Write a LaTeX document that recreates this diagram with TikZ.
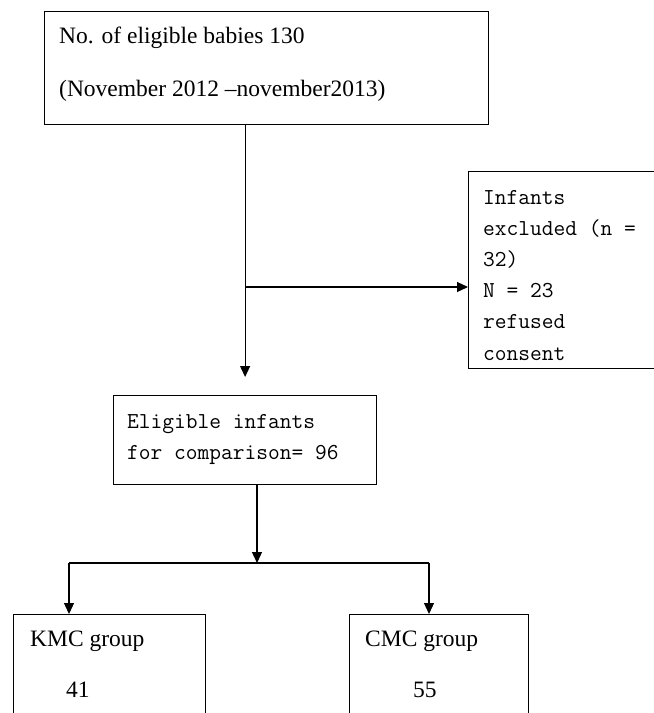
\documentclass[tikz,border=0pt]{standalone}
\usepackage{fontspec}
\setmainfont{Liberation Serif}
\usetikzlibrary{arrows.meta,positioning}

\tikzset{
    box/.style={draw, line width=1.2pt, anchor=north west, inner sep=0pt},
    flow/.style={line width=1.2pt, -{Triangle[width=10pt,length=11pt]}},
    serif/.style={anchor=base west, inner sep=0pt, font=\fontsize{23.5}{28}\selectfont},
    mono/.style={anchor=base west, inner sep=0pt, font=\ttfamily\fontsize{22.8}{28}\selectfont}
}

\begin{document}
\begin{tikzpicture}[x=1pt, y=-1pt]
            \useasboundingbox (0, 0) rectangle (654, 713);
            \clip (0, 0) rectangle (654, 713);

            \node[box, minimum width=444pt, minimum height=113pt] (babies) at (44, 11) {};
            \node[serif] (babiesA) at (59, 43) {No. of eligible babies 130};
            \node[serif] (babiesB) at (59, 96) {(November 2012 –november2013)};

            \node[box, minimum width=260pt, minimum height=197pt] (excl) at (468, 171) {};
            \node[mono] (exclA) at (483, 204) {Infants};
            \node[mono] (exclB) at (483, 235) {excluded (n =};
            \node[mono] (exclC) at (483, 266) {32)};
            \node[mono] (exclD) at (483, 297) {N = 23};
            \node[mono] (exclE) at (483, 328) {refused};
            \node[mono] (exclF) at (483, 360) {consent};

            \node[box, minimum width=263pt, minimum height=89pt] (elig) at (113, 395) {};
            \node[mono] (eligA) at (127, 428) {Eligible infants};
            \node[mono] (eligB) at (127, 459) {for comparison= 96};

            \node[box, minimum width=192pt, minimum height=160pt] (kmc) at (13, 614) {};
            \node[serif] (kmcA) at (30, 646) {KMC group};
            \node[serif] (kmcB) at (66, 697) {41};

            \node[box, minimum width=179pt, minimum height=160pt] (cmc) at (349, 614) {};
            \node[serif] (cmcA) at (365, 646) {CMC group};
            \node[serif] (cmcB) at (413, 697) {55};

            \coordinate (split) at (elig.north |- 0, 287);
            \coordinate (fork) at (257, 563);
            \coordinate (kmcin) at (69, 563);
            \coordinate (cmcin) at (429, 563);

            \draw[flow] (babies.south -| split) -- ([yshift=18pt]elig.north);
            \draw[flow] (split) -- (excl.west |- split);

            \draw[flow] (elig.south -| fork) -- (fork);
            \draw[line width=1.2pt] (kmcin) -- (cmcin);
            \draw[flow] (kmcin) -- (kmc.north -| kmcin);
            \draw[flow] (cmcin) -- (cmc.north -| cmcin);
\end{tikzpicture}
\end{document}
